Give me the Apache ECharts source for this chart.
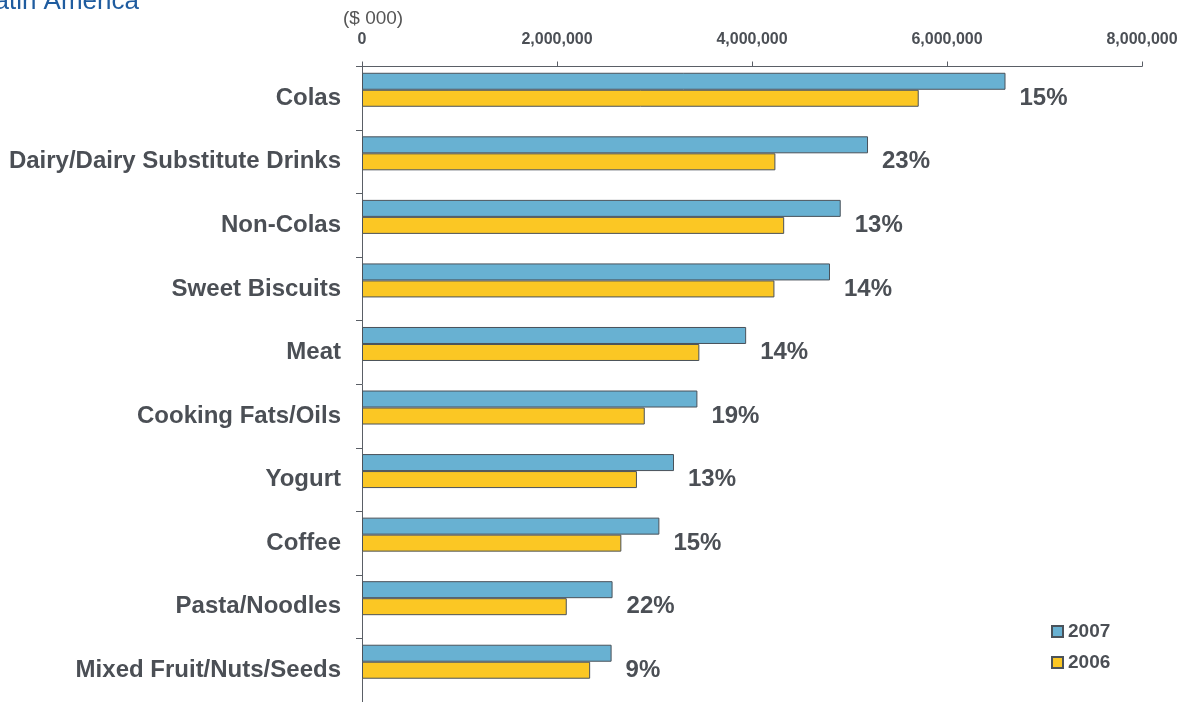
<!DOCTYPE html>
<html>
<head>
<meta charset="utf-8">
<script src="https://cdn.jsdelivr.net/npm/echarts@6/dist/echarts.min.js"></script>
<style>html,body{margin:0;padding:0;background:#fff}#c{width:1189px;height:702px}</style>
</head>
<body>
<div id="c"></div>
<script>
var categories = ["Colas","Dairy/Dairy Substitute Drinks","Non-Colas","Sweet Biscuits","Meat","Cooking Fats/Oils","Yogurt","Coffee","Pasta/Noodles","Mixed Fruit/Nuts/Seeds"];
var values2007 = [6600000,5190000,4910000,4800000,3940000,3440000,3200000,3050000,2570000,2560000];
var values2006 = [5710000,4240000,4330000,4230000,3460000,2900000,2820000,2660000,2100000,2340000];
var growthLabels = ["15%","23%","13%","14%","14%","19%","13%","15%","22%","9%"];
var xTicks = {min:0, max:8000000, interval:2000000};

var textColor = '#4b4f55';
var chart = echarts.init(document.getElementById('c'), null, {renderer:'canvas'});
chart.setOption({
  animation:false,
  title:{text:'Latin America', left:-20, top:-11, padding:0, textStyle:{color:'#1f5c9f', fontSize:26, fontWeight:'normal', fontFamily:'Liberation Sans'}},
  graphic:[{type:'text', left:343, top:9, style:{text:'($ 000)', fill:'#555', fontSize:19, fontFamily:'Liberation Sans'}}],
  legend:{orient:'vertical', left:1051, top:622, padding:0, itemWidth:11, itemHeight:11, itemGap:12, icon:'rect', data:['2007','2006'],
    textStyle:{color:textColor, fontSize:19, fontWeight:'bold', fontFamily:'Liberation Sans'}},
  grid:{left:362, right:47, top:66.5, bottom:0, containLabel:false},
  xAxis:{type:'value', position:'top', min:xTicks.min, max:xTicks.max, interval:xTicks.interval,
    axisLine:{show:true, lineStyle:{color:'#5a5f66', width:1}},
    axisTick:{show:true, length:5, lineStyle:{color:'#5a5f66'}},
    splitLine:{show:false},
    axisLabel:{margin:19, color:textColor, fontSize:16, fontWeight:'bold', fontFamily:'Liberation Sans',
      formatter:function(v){return v.toLocaleString('en-US');}}},
  yAxis:{type:'category', inverse:true, data:categories,
    axisLine:{show:true, lineStyle:{color:'#5a5f66'}},
    axisTick:{show:true, length:6, lineStyle:{color:'#5a5f66'}},
    axisLabel:{margin:21, color:textColor, fontSize:24, fontWeight:'bold', fontFamily:'Liberation Sans'}},
  series:[
    {name:'2007', type:'bar', data:values2007, barWidth:17, barGap:'0%',
      itemStyle:{color:'#68b1d2', borderColor:'#4a525a', borderWidth:1},
      label:{show:true, position:'right', distance:14, offset:[0,17], color:textColor, fontSize:24, fontWeight:'bold', fontFamily:'Liberation Sans',
        formatter:function(p){return growthLabels[p.dataIndex];}}},
    {name:'2006', type:'bar', data:values2006, barWidth:17, barGap:'0%',
      itemStyle:{color:'#fbc724', borderColor:'#4a525a', borderWidth:1}},
    {name:'spacer', type:'bar', data:[], barWidth:17, barGap:'0%', silent:true, itemStyle:{color:'transparent'}}
  ]
});
</script>
</body>
</html>
